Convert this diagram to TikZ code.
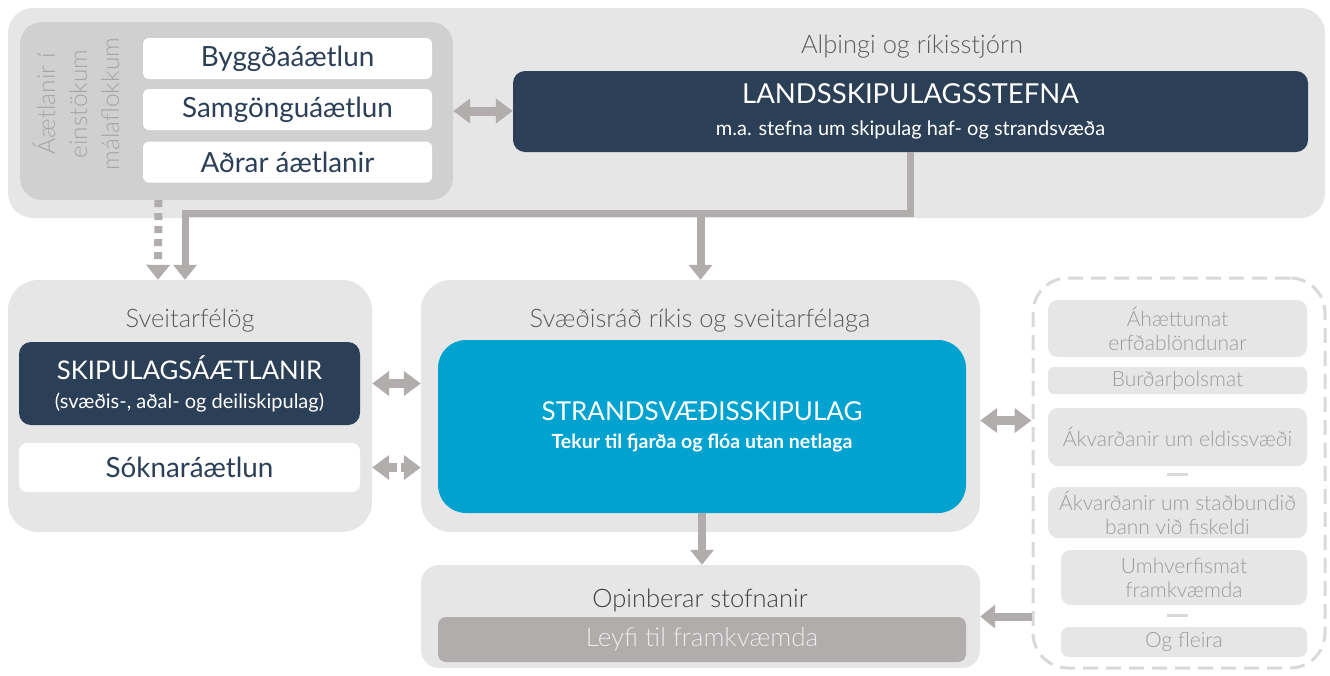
\documentclass[tikz,border=0pt]{standalone}
\usepackage{fontspec}
\setmainfont{Lato}
\newfontfamily\lightfont{Lato Light}
\usetikzlibrary{arrows.meta}

\definecolor{panelgray}{HTML}{E6E6E6}
\definecolor{plangray}{HTML}{D1D0D0}
\definecolor{navy}{HTML}{2B3F56}
\definecolor{seablue}{HTML}{00A2CF}
\definecolor{arrowgray}{HTML}{B1ADAC}
\definecolor{labelgray}{HTML}{5C5C5C}
\definecolor{softgray}{HTML}{9C9C9C}
\definecolor{linegray}{HTML}{D9D9D9}

\tikzset{
  panel/.style={fill=panelgray, rounded corners=30pt, inner sep=0pt},
  paneltitle/.style={text=labelgray, font=\lightfont\fontsize{25.5}{30}\selectfont},
  whitebox/.style={fill=white, rounded corners=6pt, inner sep=0pt, text=navy,
    font=\fontsize{27.8}{32}\selectfont},
  darkbox/.style={fill=navy, rounded corners=12pt, inner sep=0pt, text=white, align=center},
  itembox/.style={fill=panelgray, rounded corners=10pt, inner sep=0pt, text=softgray,
    align=center, font=\lightfont\fontsize{21}{24}\selectfont},
  flow/.style={draw=arrowgray, line width=8pt, -{Triangle[length=15pt,width=23pt]}},
  twoway/.style={draw=arrowgray, line width=9pt,
    {Triangle[length=17pt,width=24pt]}-{Triangle[length=17pt,width=24pt]}},
}

\begin{document}
\begin{tikzpicture}[x=1pt, y=-1pt]
  \useasboundingbox (0,0) rectangle (1330,675);

  % Alþingi og ríkisstjórn
  \node[panel, rounded corners=25pt, minimum width=1317pt, minimum height=210pt] (state) at (666.5,113) {};
  \node[paneltitle] (statetitle) at (912,47) {Alþingi og ríkisstjórn};
  \node[panel, fill=plangray, rounded corners=22pt, minimum width=433pt, minimum height=178pt] (plans) at (236.5,111) {};
  \node[rotate=90, align=center, text=softgray!90, font=\lightfont\fontsize{24.5}{32}\selectfont] (plantitle) at (76,104)
    {Áætlanir í\\einstökum\\málaflokkum};
  \node[whitebox, minimum width=289pt, minimum height=41pt] (byggd) at (287.5,58.5) {Byggðaáætlun};
  \node[whitebox, minimum width=289pt, minimum height=41pt] (samg) at (287.5,109.5) {Samgönguáætlun};
  \node[whitebox, minimum width=289pt, minimum height=41pt] (adrar) at (287.5,162) {Aðrar áætlanir};
  \node[darkbox, minimum width=795pt, minimum height=81pt, font=\fontsize{20}{32}\selectfont] (lands) at (910.5,111.5)
    {{\fontsize{27.5}{32}\selectfont LANDSSKIPULAGSSTEFNA}\\m.a. stefna um skipulag haf- og strandsvæða};

  % Sveitarfélög
  \node[panel, minimum width=364pt, minimum height=252pt] (sveit) at (190,406) {};
  \node[paneltitle] (sveittitle) at (190,321) {Sveitarfélög};
  \node[darkbox, minimum width=341pt, minimum height=83pt, font=\fontsize{20}{29}\selectfont] (skip) at (189.5,383.5)
    {{\fontsize{25.7}{29}\selectfont SKIPULAGSÁÆTLANIR}\\(svæðis-, aðal- og deiliskipulag)};
  \node[whitebox, rounded corners=8pt, minimum width=341pt, minimum height=49pt] (sokn) at (189.5,467.5) {Sóknaráætlun};

  % Svæðisráð
  \node[panel, minimum width=559pt, minimum height=252pt] (svaed) at (700.5,406) {};
  \node[paneltitle] (svaedtitle) at (700,321) {Svæðisráð ríkis og sveitarfélaga};
  \node[darkbox, fill=seablue, rounded corners=28pt, minimum width=528pt, minimum height=173pt,
    font=\bfseries\fontsize{19.5}{28}\selectfont] (strand) at (702,426.5)
    {{\mdseries\fontsize{26}{28}\selectfont STRANDSVÆÐISSKIPULAG}\\Tekur til fjarða og flóa utan netlaga};

  % Opinberar stofnanir
  \node[panel, rounded corners=18pt, minimum width=559pt, minimum height=103pt] (opin) at (700.5,616.5) {};
  \node[paneltitle, text=black!75] (opintitle) at (700,600) {Opinberar stofnanir};
  \node[fill=arrowgray, rounded corners=8pt, inner sep=0pt, minimum width=528pt, minimum height=45pt,
    text=white!92!black, font=\lightfont\fontsize{26}{30}\selectfont] (leyfi) at (702,639.5) {Leyfi til framkvæmda};

  % other decisions
  \node[draw=linegray, line width=3pt, dash pattern=on 15pt off 8pt, fill=white, rounded corners=35pt,
    minimum width=292pt, minimum height=390pt] (other) at (1179,473) {};
  \node[itembox, minimum width=259pt, minimum height=57pt] (ahaett) at (1177.5,328.5) {Áhættumat\\erfðablöndunar};
  \node[itembox, rounded corners=6pt, minimum width=259pt, minimum height=27pt] (burd) at (1177.5,380.5) {Burðarþolsmat};
  \node[itembox, minimum width=259pt, minimum height=58pt] (eldi) at (1177.5,437) {Ákvarðanir um eldissvæði};
  \node[itembox, minimum width=259pt, minimum height=51pt] (bann) at (1177.5,512.5) {Ákvarðanir um staðbundið\\bann við fiskeldi};
  \node[itembox, minimum width=246pt, minimum height=55pt] (umhv) at (1184,577.5) {Umhverfismat\\framkvæmda};
  \node[itembox, rounded corners=8pt, minimum width=246pt, minimum height=30pt] (fleira) at (1184,642) {Og fleira};
  \fill[linegray] (1167,472.5) rectangle (1188,475.5);
  \fill[linegray] (1167,613.5) rectangle (1188,616.5);

  % connectors
  \draw[twoway] (plans.east) -- (lands.west |- plans.east);
  \path (lands.south) ++(0,61) coordinate (split);
  \draw[flow, line width=7pt] (lands.south) -- (split) -| ([xshift=-5pt]sveit.north);
  \draw[flow] (split -| svaed.north) -- (svaed.north);
  \draw[flow, dash pattern=on 7pt off 6pt] ([xshift=-78pt]plans.south) -- ([xshift=-32pt]sveit.north);
  \draw[twoway] (sveit.east |- skip) -- (svaed.west |- skip);
  \draw[twoway, dash pattern=on 9pt off 4pt] (sveit.east |- sokn) -- (svaed.west |- sokn);
  \draw[twoway] ([yshift=6pt]svaed.east |- strand) -- ([yshift=6pt]other.west |- strand);
  \draw[flow] (strand.south) -- (opin.north -| strand.south);
  \draw[flow] (other.west |- opin) -- (opin.east);
\end{tikzpicture}
\end{document}
